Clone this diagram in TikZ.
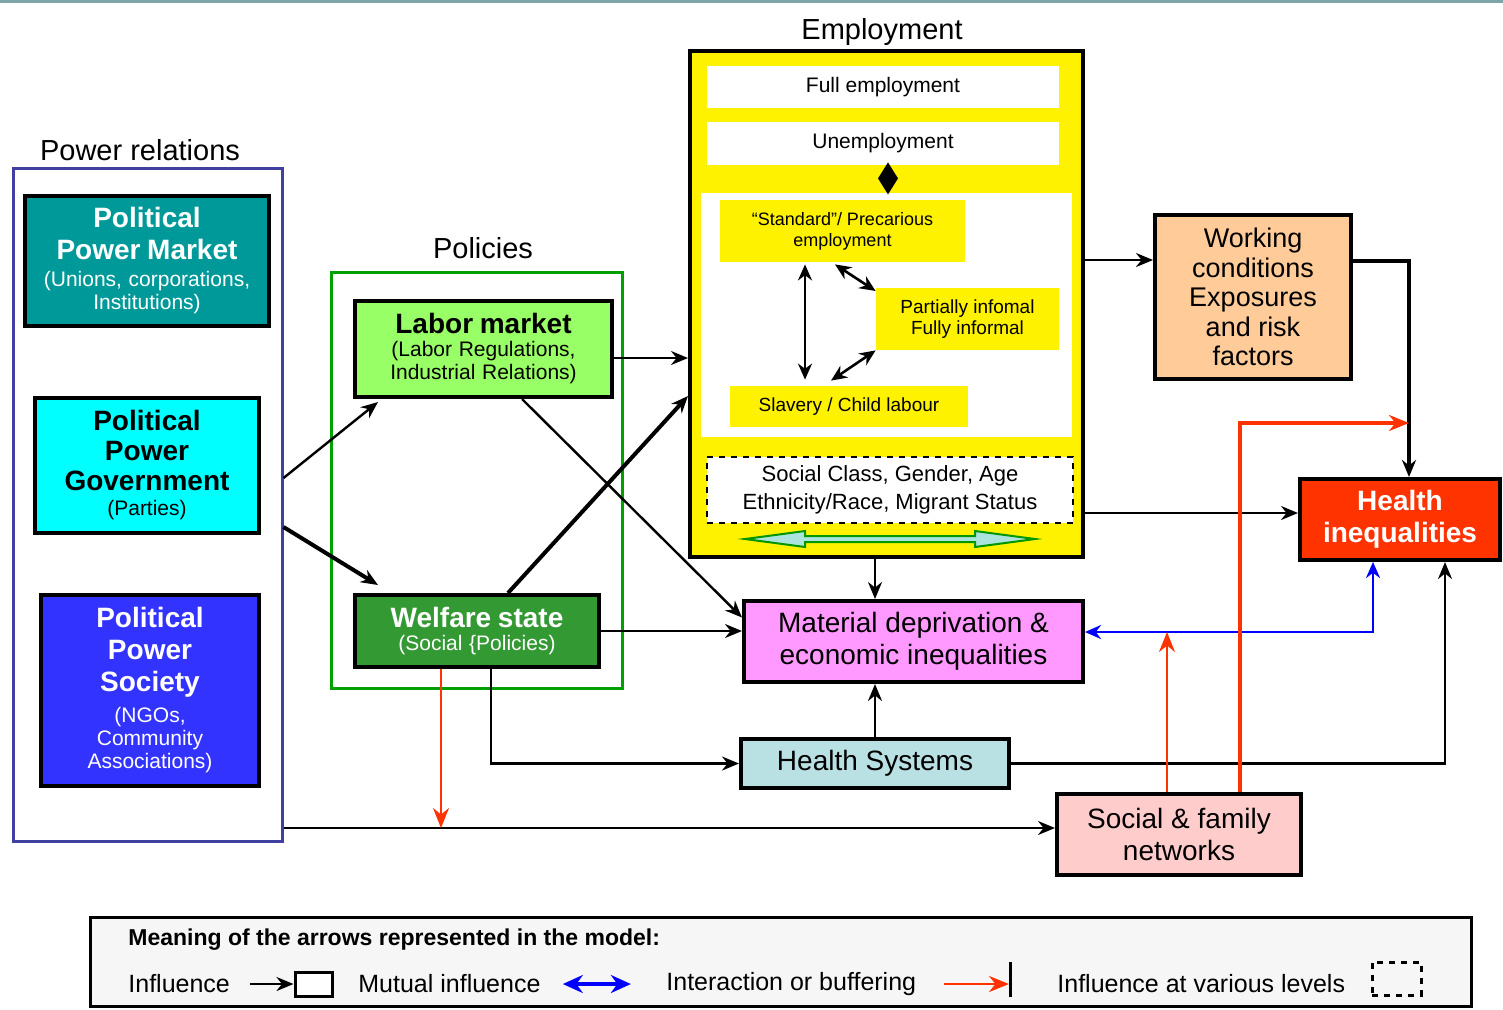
\documentclass[tikz,border=0pt]{standalone}
\usepackage{fontspec}
\setmainfont{Liberation Sans}
\usetikzlibrary{calc,arrows.meta}

\definecolor{topband}{RGB}{127,166,166}
\definecolor{powerline}{RGB}{64,64,160}
\definecolor{policyline}{RGB}{0,160,0}
\definecolor{mktteal}{RGB}{0,153,153}
\definecolor{govcyan}{RGB}{0,255,255}
\definecolor{socblue}{RGB}{51,51,255}
\definecolor{laborgreen}{RGB}{153,255,102}
\definecolor{welfaregreen}{RGB}{51,153,51}
\definecolor{workorange}{RGB}{255,204,153}
\definecolor{hired}{RGB}{255,51,0}
\definecolor{matpink}{RGB}{255,153,255}
\definecolor{hsblue}{RGB}{185,224,226}
\definecolor{sfnpink}{RGB}{255,204,204}
\definecolor{legendgray}{RGB}{246,246,246}
\definecolor{redline}{RGB}{255,51,0}
\definecolor{paleaqua}{RGB}{170,228,220}
\definecolor{greenline}{RGB}{0,150,0}

\newcommand{\mainsize}{\fontsize{14}{16}\selectfont}
\newcommand{\subsize}{\fontsize{10.5}{11.5}\selectfont}

\begin{document}
\begin{tikzpicture}[x=0.5pt, y=-0.5pt]
%define
\tikzstyle{box} = [rectangle, draw=black, line width=2pt, align=center, inner sep=0pt]
\tikzstyle{inset} = [rectangle, inner sep=0pt, align=center]
\tikzstyle{title} = [inner sep=0pt, font=\fontsize{14.5}{17}\selectfont]
\tikzstyle{arrow} = [->, >={Stealth[length=8.5pt, width=7pt]}, line width=1.2pt]
\tikzstyle{heavy} = [arrow, line width=2pt]
\tikzstyle{dbl} = [<->, >={Stealth[length=8pt, width=7pt]}, line width=1.3pt]
\tikzstyle{redarrow} = [->, >={Stealth[length=10pt, width=8pt]}, draw=redline, line width=1.1pt]
\tikzstyle{bluearrow} = [<->, >={Stealth[length=8pt, width=7pt]}, draw=blue, line width=1.4pt]
\tikzstyle{legendtext} = [anchor=west, inner sep=0pt, font=\fontsize{12.5}{14}\selectfont]

\useasboundingbox (0,0) rectangle (1503,1009);
\fill[topband] (0,0) rectangle (1503,3);

% power relations
\node[title](lbl_Power) at (140,150){Power relations};
\node[rectangle, draw=powerline, line width=1.5pt, minimum width=134.5pt, minimum height=336.5pt](powerbox) at (147.5,504.5){};
\node[box, fill=mktteal, text=white, minimum width=122pt, minimum height=65pt, text width=118pt](mkt) at (147,261){%
  {\bfseries\mainsize Political\\Power Market\par}\vspace{2pt}
  {\subsize (Unions, corporations,\\Institutions)\par}};
\node[box, fill=govcyan, minimum width=112pt, minimum height=67.5pt, text width=108pt](gov) at (147,465.5){%
  {\bfseries\fontsize{14}{15}\selectfont Political\\Power\\Government\par}\vspace{1pt}
  {\subsize (Parties)\par}};
\node[box, fill=socblue, text=white, minimum width=109pt, minimum height=95.5pt, text width=105pt](soc) at (150,690.5){%
  {\bfseries\mainsize Political\\Power\\Society\par}\vspace{4pt}
  {\subsize (NGOs,\\Community\\Associations)\par}};

% policies
\node[title](lbl_Policies) at (483,248){Policies};
\node[rectangle, draw=policyline, line width=1.5pt, minimum width=145.5pt, minimum height=208pt](policybox) at (476.5,480){};
\node[box, fill=laborgreen, minimum width=128.5pt, minimum height=48pt, text width=124pt](labor) at (483.5,349){%
  {\bfseries\mainsize Labor market\par}
  {\subsize (Labor Regulations,\\Industrial Relations)\par}};
\node[box, fill=welfaregreen, text=white, minimum width=122pt, minimum height=36pt, text width=118pt](welfare) at (477,631){%
  {\bfseries\mainsize Welfare state\par}
  {\subsize (Social \{Policies)\par}};

% employment
\node[title](lbl_Employment) at (882,32){Employment};
\node[box, fill=yellow, minimum width=196.5pt, minimum height=253pt](employ) at (886.5,304){};
\node[inset, fill=white, minimum width=176pt, minimum height=21pt, font=\fontsize{10.5}{12}\selectfont](full) at (883,87){Full employment};
\node[inset, fill=white, minimum width=176pt, minimum height=21.5pt, font=\fontsize{10.5}{12}\selectfont](unemp) at (883,143.5){Unemployment};
\node[inset, fill=white, minimum width=185.5pt, minimum height=122pt](inner) at (886.5,315){};
\node[inset, fill=yellow, minimum width=122.5pt, minimum height=31pt, font=\fontsize{9}{10.5}\selectfont](std) at (842.5,231){“Standard”/ Precarious\\employment};
\node[inset, fill=yellow, minimum width=91.5pt, minimum height=31pt, font=\fontsize{9.5}{10.5}\selectfont](inf) at (967.5,319){Partially infomal\\Fully informal};
\node[inset, fill=yellow, minimum width=119pt, minimum height=20.5pt, font=\fontsize{9.5}{11}\selectfont](slav) at (849,406.5){Slavery / Child labour};
\node[inset, fill=white, draw=black, dashed, line width=1pt, minimum width=183pt, minimum height=33pt, font=\fontsize{11}{14}\selectfont](strata) at (890,490){Social Class, Gender, Age\\Ethnicity/Race, Migrant Status};

% outcomes
\node[box, fill=workorange, minimum width=98pt, minimum height=82pt, font=\fontsize{13.5}{14.8}\selectfont](work) at (1253,297){Working\\conditions\\Exposures\\and risk\\factors};
\node[box, fill=hired, text=white, minimum width=100pt, minimum height=40.5pt, font=\bfseries\mainsize](hi) at (1400,519.5){Health\\inequalities};
\node[box, fill=matpink, minimum width=169.5pt, minimum height=40.5pt, font=\mainsize](mat) at (913.5,641.5){Material deprivation \&\\economic inequalities};
\node[box, fill=hsblue, minimum width=134pt, minimum height=24.5pt, font=\mainsize](hs) at (875,763.5){Health Systems};
\node[box, fill=sfnpink, minimum width=122pt, minimum height=40.5pt, font=\mainsize](sfn) at (1179,834.5){Social \& family\\networks};

% connectors
\draw[arrow]($(powerbox.east)+(0,-26.5)$) -- ($(labor.south west)+(25,3)$);
\draw[heavy]($(powerbox.east)+(0,22.5)$) -- ($(welfare.north west)+(25,-8)$);
\draw[arrow]($(labor.east)+(0,9)$) -- ($(employ.west)+(0,54)$);
\draw[heavy]($(welfare.north)+(31,0)$) -- ($(employ.west)+(0,92)$);
\draw[arrow]($(labor.south)+(38.5,0)$) -- ($(mat.west)+(0,-24)$);
\draw[arrow](welfare.east) -- (welfare.east -| mat.west);
\draw[arrow]($(welfare.south)+(14,0)$) |- (hs.west);

\coordinate (pw) at ($(powerbox.east)+(0,323.5)$);
\draw[arrow](pw) -- (pw -| sfn.west);
\coordinate (ws) at ($(welfare.south)+(-36,0)$);
\draw[redarrow](ws) -- (ws |- pw);

\draw[arrow](employ.south -| hs.north) -- (hs.north |- mat.north);
\draw[arrow](hs.north) -- (hs.north |- mat.south);
\coordinate (ew) at ($(employ.east)+(0,-44)$);
\draw[arrow](ew) -- (ew -| work.west);
\coordinate (eh) at ($(employ.east)+(0,209)$);
\draw[arrow](eh) -- (eh -| hi.west);
\draw[heavy]($(work.east)+(0,-36)$) -| ($(hi.north)+(9,0)$);
\draw[arrow](hs.east) -| ($(hi.south)+(45,0)$);
\coordinate (mb) at ($(mat.east)+(0,-9.5)$);
\draw[bluearrow]($(hi.south)+(-27,0)$) |- (mb);
\coordinate (sf) at ($(sfn.north)+(-12,0)$);
\draw[redarrow](sf) -- (sf |- mb);
\draw[redarrow, line width=1.7pt]($(sfn.north)+(61,0)$) |- ($(hi.north)+(9,-54)$);

% inside employment
\fill ($(unemp.south)+(5,-3)$) -- ++(10,16) -- ++(-10,16) -- ++(-10,-16) -- cycle;
\draw[dbl]($(std.south)+(-37.5,2)$) -- ($(slav.north)+(-44,-6)$);
\draw[dbl]($(std.south)+(-7.5,2)$) -- ($(inf.west)+(0,-28)$);
\draw[dbl]($(slav.north)+(-18,-5)$) -- (inf.south west);
\filldraw[draw=greenline, fill=paleaqua, line width=1pt] (745,539) -- (805,531) -- (805,536) -- (975,536) -- (975,531) -- (1035,539) -- (975,547) -- (975,542) -- (805,542) -- (805,547) -- cycle;

% legend
\node[rectangle, draw=black, fill=legendgray, line width=1.5pt, minimum width=690.5pt, minimum height=44.5pt](legend) at (780.5,961.5){};
\node[anchor=west, inner sep=0pt, font=\bfseries\fontsize{11.5}{13}\selectfont](lgtitle) at (128,940){Meaning of the arrows represented in the model:};
\node[legendtext](lginf) at (128,984){Influence};
\node[rectangle, draw=black, fill=white, line width=1.5pt, minimum width=18.5pt, minimum height=12pt](lgbox) at (313.5,984){};
\draw[arrow]($(lginf.east)+(20,0)$) -- (lgbox.west);
\node[legendtext](lgmut) at (358,984){Mutual influence};
\draw[<->, >={Stealth[length=10pt, width=9pt]}, draw=blue, line width=1.6pt]($(lgmut.east)+(22,0)$) -- ($(lgmut.east)+(90,0)$);
\node[legendtext](lgint) at (666,984){Interaction or buffering};
\coordinate (lgbar) at (1009,984);
\draw[line width=1.5pt]($(lgbar)+(1,-22)$) -- ($(lgbar)+(1,13)$);
\draw[redarrow, line width=1.4pt]($(lgint.east)+(27,0)$) -- (lgbar);
\node[legendtext](lglev) at (1057,984){Influence at various levels};
\node[rectangle, draw=black, dashed, line width=1.5pt, minimum width=24.5pt, minimum height=16.5pt](lgdash) at (1396.5,978.5){};

\end{tikzpicture}
\end{document}
